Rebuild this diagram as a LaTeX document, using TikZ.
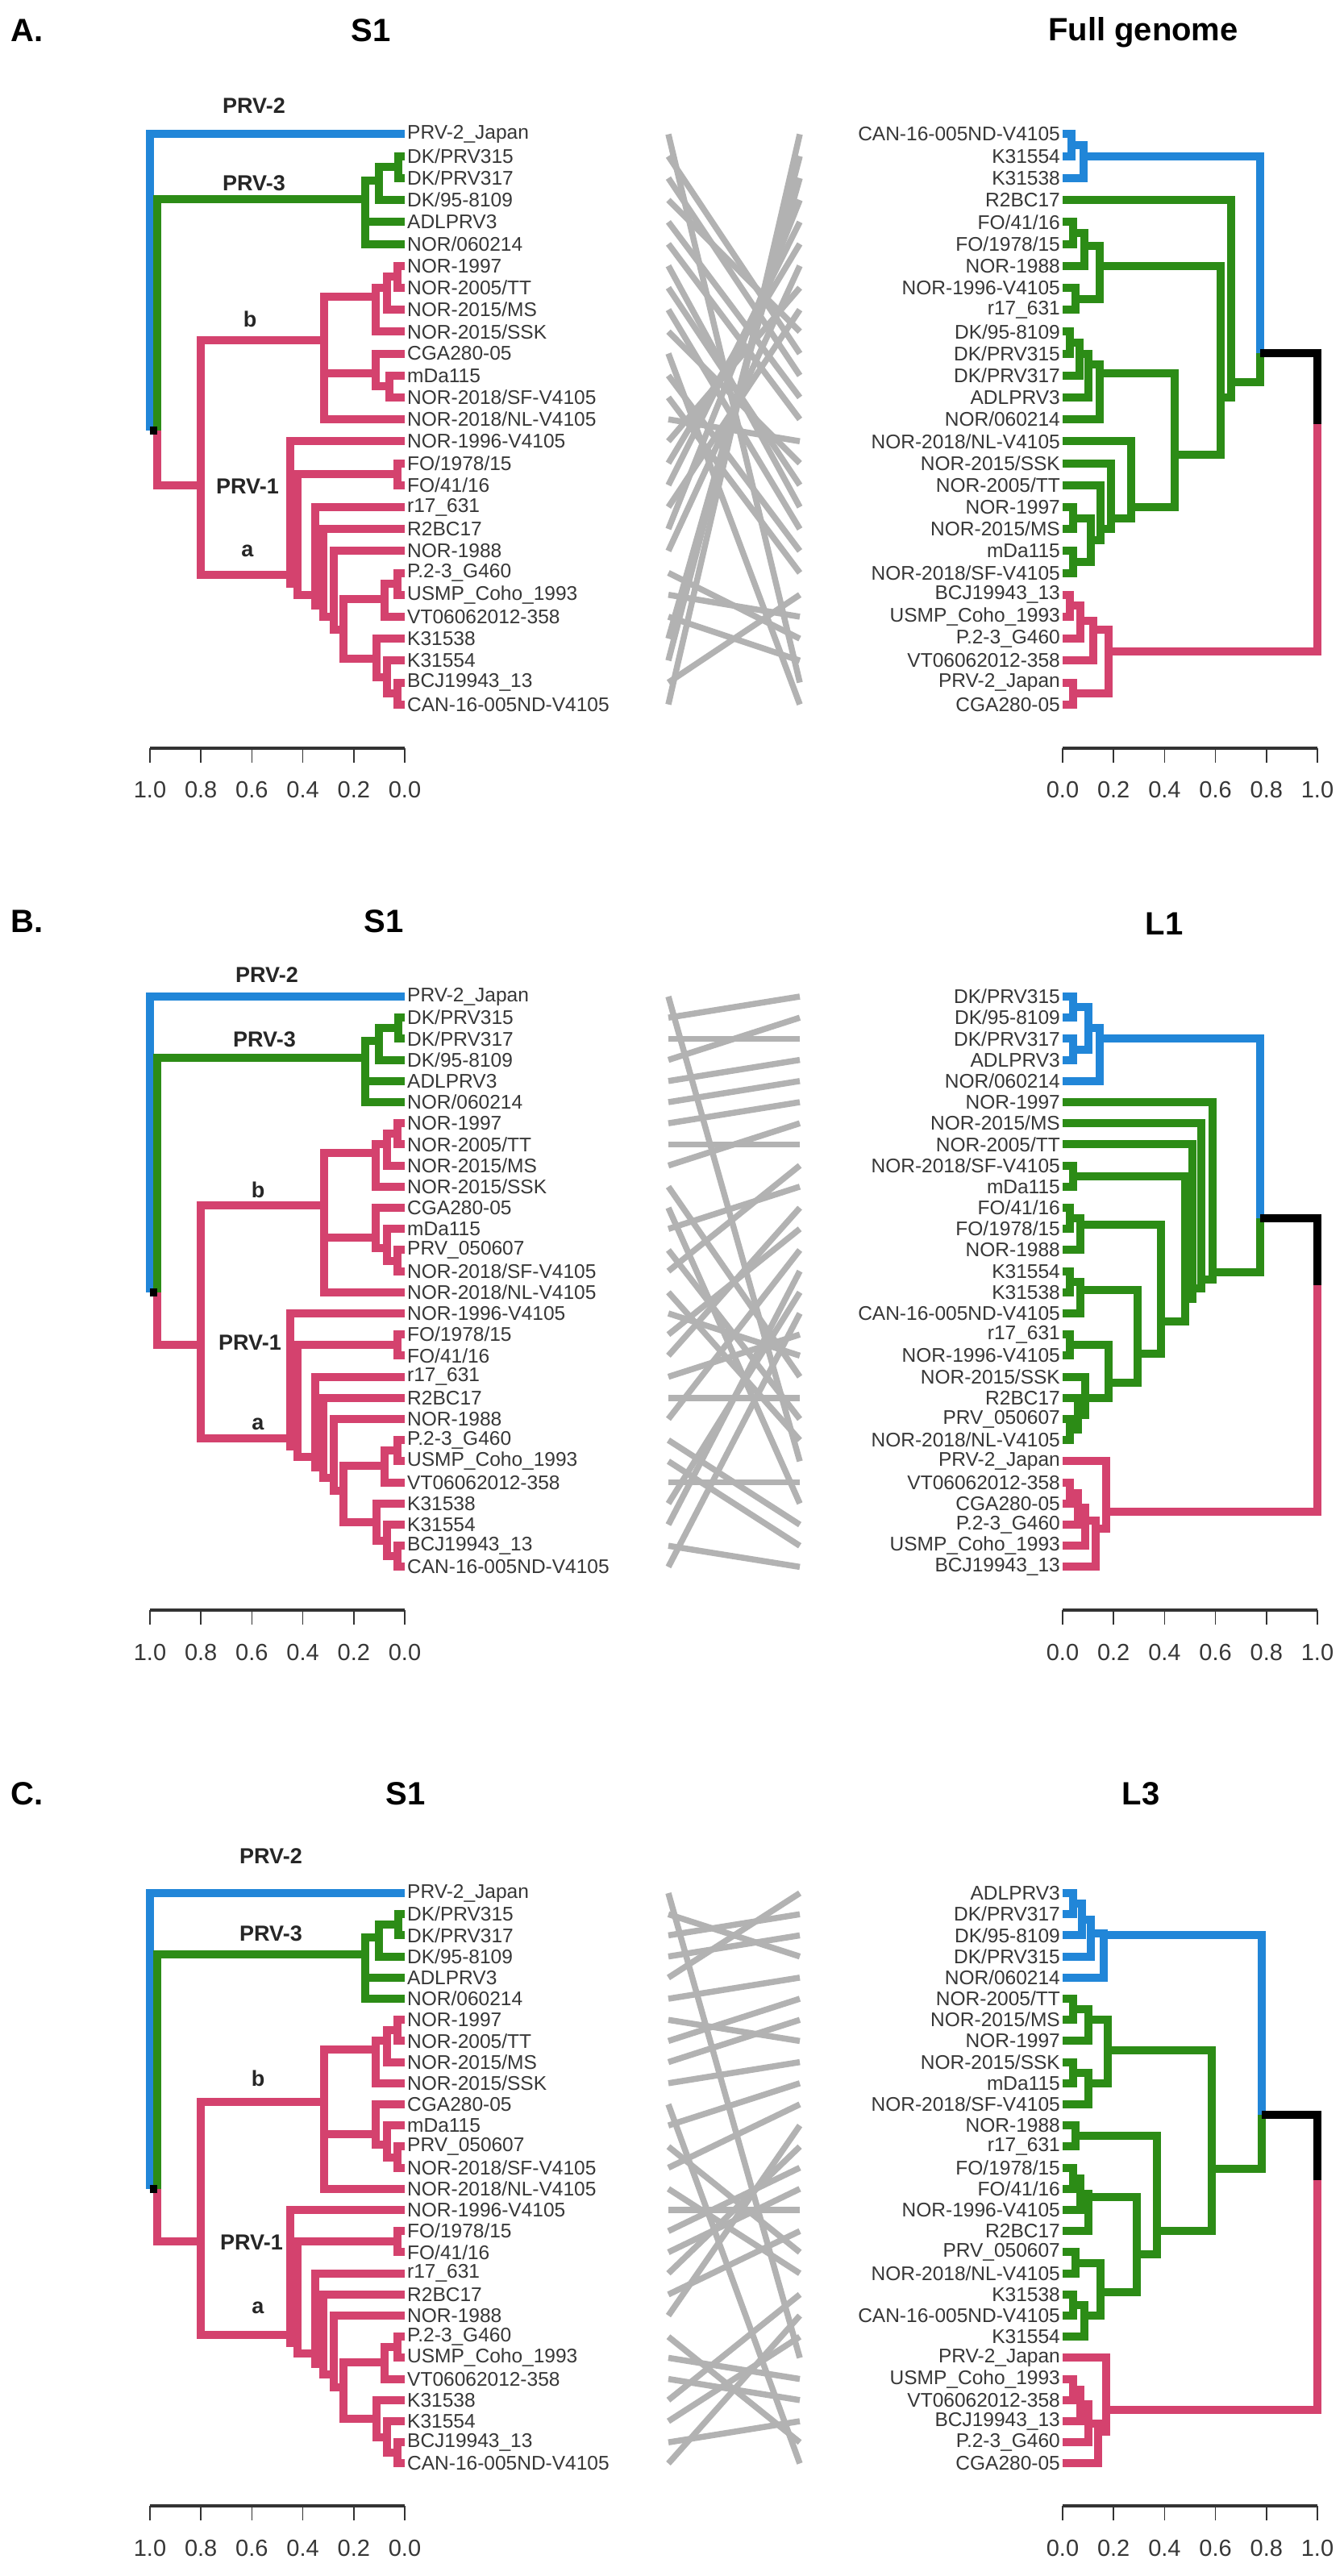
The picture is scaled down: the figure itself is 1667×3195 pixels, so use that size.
\documentclass[tikz,border=0pt]{standalone}
\usepackage{fontspec}
\setmainfont{Liberation Sans}
\definecolor{cblue}{RGB}{33,134,216}
\definecolor{cgreen}{RGB}{44,140,22}
\definecolor{cpink}{RGB}{212,66,110}
\definecolor{cgray}{RGB}{178,178,178}
\definecolor{labgray}{RGB}{55,55,55}
\tikzset{
 br/.style={line width=10pt, line join=miter, line cap=butt},
 blu/.style={br, draw=cblue},
 grn/.style={br, draw=cgreen},
 pnk/.style={br, draw=cpink},
 blk/.style={br, draw=black},
 leaflab/.style={font=\fontsize{24.5}{26}\selectfont, text=labgray, inner sep=0pt},
 cladelab/.style={font=\bfseries\fontsize{27}{30}\selectfont, text=black!85, inner sep=0pt},
 ttl/.style={font=\bfseries\fontsize{40}{44}\selectfont, inner sep=0pt},
 conn/.style={draw=cgray, line width=7.5pt},
 axl/.style={draw=black!80, line width=3.5pt},
 tickl/.style={draw=black!80, line width=1.6pt},
 axlab/.style={font=\fontsize{29}{31}\selectfont, text=labgray, inner sep=0pt},
}
\newcommand\Edges[3]{\foreach \pa/\ch in {#3} {\draw[#2] (#1-\pa) |- (#1-\ch);}}
\newcommand\Pts[2]{\foreach \pn/\ph/\pv in {#2} {\coordinate (#1-\pn) at (\ph,\pv);}}
\newcommand\LeavesL[2]{\foreach \lt [count=\i from 0] in {#2} {\coordinate (#1-\i) at (0,\i); \node[leaflab,anchor=west] (#1-n\i) at ([xshift=3pt]#1-\i) {\lt};}}
\newcommand\LeavesR[2]{\foreach \lt [count=\i from 0] in {#2} {\coordinate (#1-\i) at (0,\i); \node[leaflab,anchor=east] (#1-n\i) at ([xshift=-3pt]#1-\i) {\lt};}}
\newcommand\ConnPts[3]{% panel, y0, dy
 \begin{scope}[shift={(0,#2)},y=-#3pt]
 \foreach \i in {0,...,27} {\coordinate (#1-cl-\i) at (829,\i); \coordinate (#1-cr-\i) at (992,\i);}
 \end{scope}}
\newcommand\Conn[2]{\foreach \a/\b in {#2} {\draw[conn] (#1-cl-\a) -- (#1-cr-\b);}}
\newcommand\Axes[2]{%
 \draw[axl] (186,#2) -- (502,#2);
 \draw[axl] (1318,#2) -- (1634,#2);
 \foreach \k/\lab in {0/1.0,1/0.8,2/0.6,3/0.4,4/0.2,5/0.0}{%
   \draw[tickl] ({186+63.2*\k},#2) -- ++(0,18);
   \node[axlab] (#1-axl\k) at ({186+63.2*\k},#2+52) {\lab};
   \draw[tickl] ({1634-63.2*\k},#2) -- ++(0,18);
   \node[axlab] (#1-axr\k) at ({1634-63.2*\k},#2+52) {\lab};
 }}
\newcommand\SoneLeft[1]{%
 \LeavesL{#1}{PRV-2\_Japan,DK/PRV315,DK/PRV317,DK/95-8109,ADLPRV3,NOR/060214,NOR-1997,NOR-2005/TT,NOR-2015/MS,NOR-2015/SSK,CGA280-05,mDa115,PRV\_050607,NOR-2018/SF-V4105,NOR-2018/NL-V4105,NOR-1996-V4105,FO/1978/15,FO/41/16,r17\_631,R2BC17,NOR-1988,P.2-3\_G460,USMP\_Coho\_1993,VT06062012-358,K31538,K31554,BCJ19943\_13,CAN-16-005ND-V4105}%
 \Pts{#1}{root/1.0/14.0,N1/0.97/14.0,g1/0.025/1.5,gA/0.10/2.1,P3/0.156/2.9,PRV1/0.80/16.5,Nb/0.316/9.9,c67/0.03/6.5,c678/0.07/7.0,c69/0.114/7.4,q1/0.03/12.5,q2/0.07/11.9,c1013/0.114/11.4,Na/0.45/20.9,FO/0.03/16.5,Na2/0.42/21.3,Na3/0.35/21.8,Na4/0.32/22.3,Na5/0.28/22.8,Na6/0.24/23.4,c2122/0.03/21.5,P23/0.08/22.2,k1/0.03/26.5,k2/0.07/25.75,K/0.11/24.9}%
 \Edges{#1}{blu}{root/0}%
 \Edges{#1}{grn}{N1/P3,P3/gA,P3/4,P3/5,gA/g1,gA/3,g1/1,g1/2}%
 \Edges{#1}{pnk}{N1/PRV1,PRV1/Nb,PRV1/Na,Nb/c69,Nb/c1013,Nb/14,c69/c678,c69/9,c678/c67,c678/8,c67/6,c67/7,c1013/10,c1013/q2,q2/11,q2/q1,q1/12,q1/13,Na/15,Na/Na2,Na2/FO,FO/16,FO/17,Na2/Na3,Na3/18,Na3/Na4,Na4/19,Na4/Na5,Na5/20,Na5/Na6,Na6/P23,Na6/K,P23/c2122,P23/23,c2122/21,c2122/22,K/24,K/k2,k2/25,k2/k1,k1/26,k1/27}%
 \Edges{#1}{blk}{root/N1}%
}
\begin{document}
\begin{tikzpicture}[x=1pt,y=-1pt]
\useasboundingbox (0,0) rectangle (1667,3195);
\fill[white] (0,0) rectangle (1667,3195);

% ================= Panel A =================
\node[ttl,anchor=west] (A-lab) at (13,38) {A.};
\node[ttl] (A-t1) at (460,38) {S1};
\node[ttl] (A-t2) at (1418,40) {Full genome};
\begin{scope}[shift={(502,166.5)},x=-316pt,y=-27.2pt]
 \LeavesL{A-L}{PRV-2\_Japan,DK/PRV315,DK/PRV317,DK/95-8109,ADLPRV3,NOR/060214,NOR-1997,NOR-2005/TT,NOR-2015/MS,NOR-2015/SSK,CGA280-05,mDa115,NOR-2018/SF-V4105,NOR-2018/NL-V4105,NOR-1996-V4105,FO/1978/15,FO/41/16,r17\_631,R2BC17,NOR-1988,P.2-3\_G460,USMP\_Coho\_1993,VT06062012-358,K31538,K31554,BCJ19943\_13,CAN-16-005ND-V4105}
 \Pts{A-L}{root/1.0/13.5,N1/0.97/13.5,g1/0.025/1.5,gA/0.10/2.1,P3/0.156/2.95,PRV1/0.80/16.0,Nb/0.316/9.4,c67/0.03/6.5,c678/0.07/7.0,c69/0.114/7.4,c1112/0.06/11.5,c1012/0.114/10.9,Na/0.45/20.1,FO/0.03/15.5,Na2/0.42/20.5,Na3/0.35/21.0,Na4/0.32/21.5,Na5/0.28/22.0,Na6/0.24/22.6,c2021/0.03/20.5,P23/0.08/21.2,k1/0.03/25.5,k2/0.07/24.75,K/0.11/23.9}
 \Edges{A-L}{blu}{root/0}
 \Edges{A-L}{grn}{N1/P3,P3/gA,P3/4,P3/5,gA/g1,gA/3,g1/1,g1/2}
 \Edges{A-L}{pnk}{N1/PRV1,PRV1/Nb,PRV1/Na,Nb/c69,Nb/c1012,Nb/13,c69/c678,c69/9,c678/c67,c678/8,c67/6,c67/7,c1012/10,c1012/c1112,c1112/11,c1112/12,Na/14,Na/Na2,Na2/FO,FO/15,FO/16,Na2/Na3,Na3/17,Na3/Na4,Na4/18,Na4/Na5,Na5/19,Na5/Na6,Na6/P23,Na6/K,P23/c2021,P23/22,c2021/20,c2021/21,K/23,K/k2,k2/24,k2/k1,k1/25,k1/26}
 \Edges{A-L}{blk}{root/N1}
\end{scope}
\begin{scope}[shift={(1318,166.5)},x=316pt,y=-27.2pt]
 \LeavesR{A-R}{CAN-16-005ND-V4105,K31554,K31538,R2BC17,FO/41/16,FO/1978/15,NOR-1988,NOR-1996-V4105,r17\_631,DK/95-8109,DK/PRV315,DK/PRV317,ADLPRV3,NOR/060214,NOR-2018/NL-V4105,NOR-2015/SSK,NOR-2005/TT,NOR-1997,NOR-2015/MS,mDa115,NOR-2018/SF-V4105,BCJ19943\_13,USMP\_Coho\_1993,P.2-3\_G460,VT06062012-358,PRV-2\_Japan,CGA280-05}
 \Pts{A-R}{root/1.0/13.2,Ntop/0.774/9.97,b1/0.035/0.5,B/0.083/1.0,G/0.66/11.3,G2/0.62/12.0,c45/0.04/4.5,c456/0.085/5.1,c78/0.05/7.5,G3/0.147/6.0,G4/0.44/14.6,d1/0.03/9.5,d2/0.065/10.0,d3/0.10/10.5,D/0.147/10.9,c1718/0.04/17.5,c1920/0.04/19.5,N4/0.11/18.5,N3/0.15/18.0,N2/0.19/17.5,N/0.27/17.0,p1/0.03/21.5,p2/0.07/22.2,p3/0.12/22.6,p4/0.04/25.5,P/0.18/23.6}
 \Edges{A-R}{blu}{Ntop/B,B/b1,B/2,b1/0,b1/1}
 \Edges{A-R}{grn}{Ntop/G,G/3,G/G2,G2/G3,G2/G4,G3/c456,G3/c78,c456/c45,c456/6,c45/4,c45/5,c78/7,c78/8,G4/D,G4/N,D/d3,D/13,d3/d2,d3/12,d2/d1,d2/11,d1/9,d1/10,N/14,N/N2,N2/15,N2/N3,N3/16,N3/N4,N4/c1718,N4/c1920,c1718/17,c1718/18,c1920/19,c1920/20}
 \Edges{A-R}{pnk}{root/P,P/p3,P/p4,p3/p2,p3/24,p2/p1,p2/23,p1/21,p1/22,p4/25,p4/26}
 \Edges{A-R}{blk}{root/Ntop}
\end{scope}
\ConnPts{A}{166.5}{27.2}
\Conn{A}{0/25,1/10,2/11,3/9,4/12,5/13,6/17,7/16,8/18,9/15,10/26,11/19,12/20,13/14,14/7,15/5,16/4,17/8,18/3,19/6,20/23,21/22,22/24,23/2,24/1,25/21,26/0}
\node[cladelab] (A-c2) at (315,131) {PRV-2};
\node[cladelab] (A-c3) at (315,227) {PRV-3};
\node[cladelab] (A-cb) at (310,396) {b};
\node[cladelab] (A-c1) at (307,603) {PRV-1};
\node[cladelab] (A-ca) at (307,683) {a};
\Axes{A}{928}

% ================= Panel B =================
\node[ttl,anchor=west] (B-lab) at (13,1143) {B.};
\node[ttl] (B-t1) at (476,1143) {S1};
\node[ttl] (B-t2) at (1444,1146) {L1};
\begin{scope}[shift={(502,1236)},x=-316pt,y=-26.2pt]
 \SoneLeft{B-L}
\end{scope}
\begin{scope}[shift={(1318,1236)},x=316pt,y=-26.2pt]
 \LeavesR{B-R}{DK/PRV315,DK/95-8109,DK/PRV317,ADLPRV3,NOR/060214,NOR-1997,NOR-2015/MS,NOR-2005/TT,NOR-2018/SF-V4105,mDa115,FO/41/16,FO/1978/15,NOR-1988,K31554,K31538,CAN-16-005ND-V4105,r17\_631,NOR-1996-V4105,NOR-2015/SSK,R2BC17,PRV\_050607,NOR-2018/NL-V4105,PRV-2\_Japan,VT06062012-358,CGA280-05,P.2-3\_G460,USMP\_Coho\_1993,BCJ19943\_13}
 \Pts{B-R}{root/1.0/13.66,Ntop/0.774/10.5,b01/0.04/0.5,b23/0.04/2.5,b0123/0.10/1.5,B/0.147/2.0,G/0.59/13.05,G1/0.545/13.4,G2/0.51/13.8,G3/0.48/14.3,SM/0.04/8.5,FKRS/0.386/15.4,f1/0.03/10.5,F/0.07/10.8,KRS/0.293/16.9,k1/0.03/13.5,K/0.07/13.9,RS/0.18/18.3,r1/0.03/16.5,s1/0.03/20.5,s2/0.06/19.8,S/0.09/19.0,P/0.17/24.4,P2/0.13/25.2,p3/0.09/24.8,p2/0.06/24.2,p1/0.03/23.5}
 \Edges{B-R}{blu}{Ntop/B,B/b0123,B/4,b0123/b01,b0123/b23,b01/0,b01/1,b23/2,b23/3}
 \Edges{B-R}{grn}{Ntop/G,G/5,G/G1,G1/6,G1/G2,G2/7,G2/G3,G3/SM,G3/FKRS,SM/8,SM/9,FKRS/F,FKRS/KRS,F/f1,F/12,f1/10,f1/11,KRS/K,KRS/RS,K/k1,K/15,k1/13,k1/14,RS/r1,RS/S,r1/16,r1/17,S/18,S/s2,s2/19,s2/s1,s1/20,s1/21}
 \Edges{B-R}{pnk}{root/P,P/22,P/P2,P2/p3,P2/27,p3/p2,p3/26,p2/p1,p2/25,p1/23,p1/24}
 \Edges{B-R}{blk}{root/Ntop}
\end{scope}
\ConnPts{B}{1236}{26.2}
\Conn{B}{0/22,1/0,2/2,3/1,4/3,5/4,6/5,7/7,8/6,9/18,10/24,11/9,12/20,13/8,14/21,15/17,16/11,17/10,18/16,19/19,20/12,21/25,22/26,23/23,24/14,25/13,26/27,27/15}
\node[cladelab] (B-c2) at (331,1209) {PRV-2};
\node[cladelab] (B-c3) at (328,1289) {PRV-3};
\node[cladelab] (B-cb) at (320,1476) {b};
\node[cladelab] (B-c1) at (310,1665) {PRV-1};
\node[cladelab] (B-ca) at (320,1766) {a};
\Axes{B}{1997}

% ================= Panel C =================
\node[ttl,anchor=west] (C-lab) at (13,2225) {C.};
\node[ttl] (C-t1) at (503,2225) {S1};
\node[ttl] (C-t2) at (1415,2225) {L3};
\begin{scope}[shift={(502,2348)},x=-316pt,y=-26.2pt]
 \SoneLeft{C-L}
\end{scope}
\begin{scope}[shift={(1318,2348)},x=316pt,y=-26.2pt]
 \LeavesR{C-R}{ADLPRV3,DK/PRV317,DK/95-8109,DK/PRV315,NOR/060214,NOR-2005/TT,NOR-2015/MS,NOR-1997,NOR-2015/SSK,mDa115,NOR-2018/SF-V4105,NOR-1988,r17\_631,FO/1978/15,FO/41/16,NOR-1996-V4105,R2BC17,PRV\_050607,NOR-2018/NL-V4105,K31538,CAN-16-005ND-V4105,K31554,PRV-2\_Japan,USMP\_Coho\_1993,VT06062012-358,BCJ19943\_13,P.2-3\_G460,CGA280-05}
 \Pts{C-R}{root/1.0/13.6,Ntop/0.78/10.5,bb1/0.04/0.5,bb2/0.075/1.25,bb3/0.11/1.9,B/0.16/2.0,G/0.586/13.05,g56/0.04/5.5,g567/0.1/6.0,g89/0.04/8.5,g8910/0.1/9.0,Gup/0.176/7.46,Gdn/0.37/16.0,g1112/0.05/11.5,Glow/0.29/17.1,gf1/0.04/13.5,gf2/0.07/14.25,gFO/0.1/14.4,g1718/0.05/17.5,gk1/0.04/19.5,gKK/0.085/20.0,gK/0.15/18.9,P/0.17/24.45,P2/0.14/25.5,pc3/0.1/25.1,pc2/0.07/24.2,pc1/0.04/23.5}
 \Edges{C-R}{blu}{Ntop/B,B/bb3,B/4,bb3/bb2,bb3/3,bb2/bb1,bb2/2,bb1/0,bb1/1}
 \Edges{C-R}{grn}{Ntop/G,G/Gup,G/Gdn,Gup/g567,Gup/g8910,g567/g56,g567/7,g56/5,g56/6,g8910/g89,g8910/10,g89/8,g89/9,Gdn/g1112,Gdn/Glow,g1112/11,g1112/12,Glow/gFO,Glow/gK,gFO/gf2,gFO/16,gf2/gf1,gf2/15,gf1/13,gf1/14,gK/g1718,gK/gKK,g1718/17,g1718/18,gKK/gk1,gKK/21,gk1/19,gk1/20}
 \Edges{C-R}{pnk}{root/P,P/22,P/P2,P2/pc3,P2/27,pc3/pc2,pc3/26,pc2/pc1,pc2/25,pc1/23,pc1/24}
 \Edges{C-R}{blk}{root/Ntop}
\end{scope}
\ConnPts{C}{2348}{26.2}
\Conn{C}{0/22,1/3,2/1,3/2,4/0,5/4,6/7,7/5,8/6,9/8,10/27,11/9,12/17,13/10,14/18,15/15,16/13,17/14,18/12,19/16,20/11,21/26,22/23,23/24,24/19,25/21,26/25,27/20}
\node[cladelab] (C-c2) at (336,2302) {PRV-2};
\node[cladelab] (C-c3) at (336,2398) {PRV-3};
\node[cladelab] (C-cb) at (320,2578) {b};
\node[cladelab] (C-c1) at (312,2781) {PRV-1};
\node[cladelab] (C-ca) at (320,2862) {a};
\Axes{C}{3108}
\end{tikzpicture}
\end{document}
